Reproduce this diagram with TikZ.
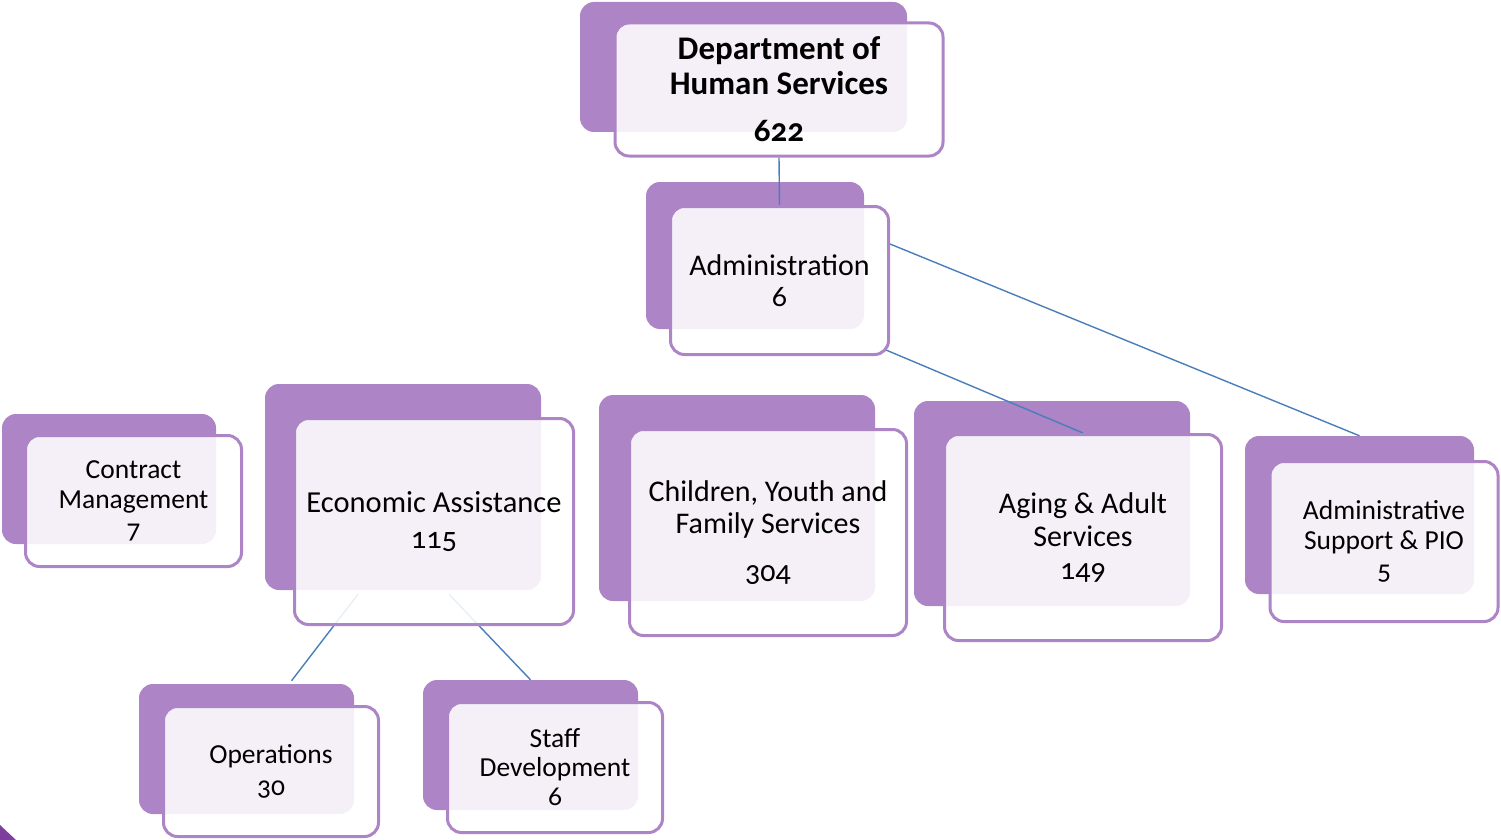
\documentclass[tikz,border=0pt]{standalone}
\usepackage{fontspec}
\setmainfont{Carlito}[Numbers=OldStyle]
\usetikzlibrary{calc}
\definecolor{backpurple}{RGB}{173,132,198}
\definecolor{linkblue}{RGB}{74,126,187}
\definecolor{cornerpurple}{RGB}{125,62,160}
\pgfdeclarelayer{backs}
\pgfdeclarelayer{links}
\pgfsetlayers{backs,links,main}
\tikzset{
  backbox/.style={fill=backpurple, rounded corners=14pt, inner sep=0pt, minimum width=#1},
  frontbox/.style={draw=backpurple, line width=3pt, fill=white, fill opacity=0.88, rounded corners=14pt, inner sep=0pt, minimum width=#1},
  lbl/.style={align=center, inner sep=0pt, text=black},
  link/.style={draw=linkblue, line width=1.4pt},
}
\newcommand\fs[2]{\fontsize{#1}{#2}\selectfont}
\begin{document}
\begin{tikzpicture}[x=1pt,y=-1pt]
\useasboundingbox (0,0) rectangle (1501,840);
% back boxes
\begin{pgfonlayer}{backs}
\node[backbox=327pt, minimum height=130pt] (dhsB) at (743.5,67) {};
\node[backbox=218pt, minimum height=147pt] (admB) at (755,255.5) {};
\node[backbox=214pt, minimum height=130pt] (conB) at (109,479) {};
\node[backbox=276pt, minimum height=206pt] (ecoB) at (403,487) {};
\node[backbox=276pt, minimum height=206pt] (chiB) at (737,498) {};
\node[backbox=276pt, minimum height=205pt] (agiB) at (1052,503.5) {};
\node[backbox=229pt, minimum height=158pt] (supB) at (1359.5,515) {};
\node[backbox=215pt, minimum height=130pt] (opsB) at (246.5,749) {};
\node[backbox=215pt, minimum height=130pt] (stfB) at (530.5,745) {};
\end{pgfonlayer}
% front boxes
\node[frontbox=328pt, minimum height=133pt] (dhsF) at (779,89.5) {};
\node[frontbox=218pt, minimum height=148pt] (admF) at (779.5,280.5) {};
\node[frontbox=216pt, minimum height=131pt] (conF) at (133.5,501) {};
\node[frontbox=279pt, minimum height=206pt] (ecoF) at (434,521.5) {};
\node[frontbox=277pt, minimum height=206pt] (chiF) at (768,532.5) {};
\node[frontbox=277pt, minimum height=206pt] (agiF) at (1083,537.5) {};
\node[frontbox=228pt, minimum height=160pt] (supF) at (1384,541.5) {};
\node[frontbox=215pt, minimum height=130pt] (opsF) at (271,771.5) {};
\node[frontbox=215pt, minimum height=130pt] (stfF) at (555,767.5) {};
% labels
\node[lbl, font=\fs{33}{35}\bfseries] (dhsT) at (dhsF.center) {Department of\\Human Services\\[12pt]622};
\node[lbl, font=\fs{30}{31}] (admT) at (admF.center) {Administration\\6};
\node[lbl, font=\fs{27.5}{30}] (conT) at (conF.center) {Contract\\Management\\7};
\node[lbl, font=\fs{30.5}{36}] (ecoT) at (ecoF.center) {Economic Assistance\\115};
\node[lbl, font=\fs{30}{32}] (chiT) at (chiF.center) {Children, Youth and\\Family Services\\[16pt]304};
\node[lbl, font=\fs{30}{33}] (agiT) at (agiF.center) {Aging \& Adult\\Services\\149};
\node[lbl, font=\fs{27.5}{30}] (supT) at (supF.center) {Administrative\\Support \& PIO\\5};
\node[lbl, font=\fs{27.5}{32}] (opsT) at (opsF.center) {Operations\\30};
\node[lbl, font=\fs{27.5}{29}] (stfT) at (stfF.center) {Staff\\Development\\6};
% connectors
\begin{pgfonlayer}{links}
\coordinate (admR) at ($(admF.north east)+(0,39)$);
\coordinate (admC) at ($(admF.south east)+(-4,-6)$);
\coordinate (ecoL) at ($(ecoB.south)+(-45,4)$);
\coordinate (ecoR) at ($(ecoB.south)+(46,4)$);
\coordinate (opsTop) at ($(opsB.north)+(45,-3)$);
\draw[link] (dhsF.south) -- (admF.north);
\draw[link] (admR) -- (supB.north);
\draw[link] (admC) -- (agiF.north);
\draw[link] (ecoL) -- (opsTop);
\draw[link] (ecoR) -- (stfB.north);
\end{pgfonlayer}
% corner mark
\fill[cornerpurple] (0,825) -- (16,840) -- (0,840) -- cycle;
\end{tikzpicture}
\end{document}
